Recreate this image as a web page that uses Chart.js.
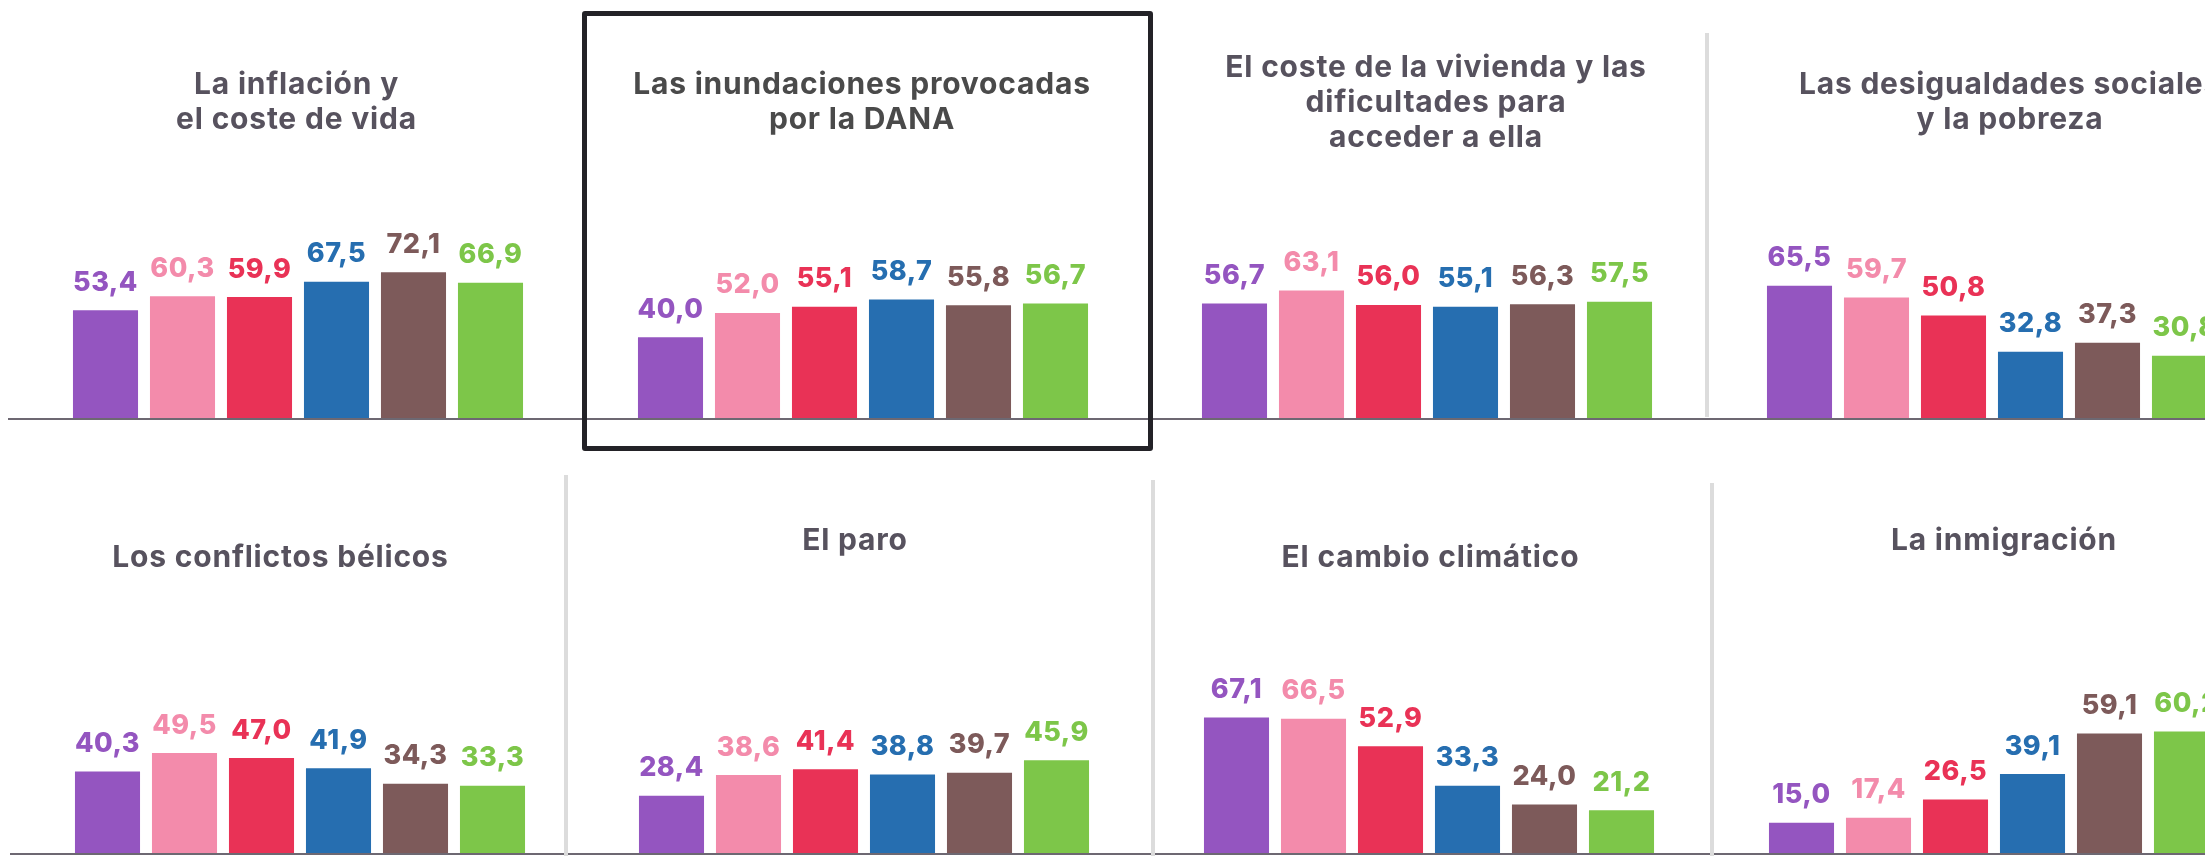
<!DOCTYPE html>
<html lang="es">
<head>
<meta charset="utf-8">
<title>Preocupaciones</title>
<script src="https://cdn.jsdelivr.net/npm/chart.js@4.4.1/dist/chart.umd.min.js"></script>
<style>
    html, body { margin: 0; padding: 0; background: #fff; }
    #board { position: relative; width: 2205px; height: 856px; overflow: hidden; }
    #board canvas { position: absolute; }
    .sep { position: absolute; width: 4px; background: #dcdcdc; }
    .highlight { position: absolute; box-sizing: border-box; border: 5px solid #232227; border-radius: 3px; }
</style>
</head>
<body>
<div id="board"></div>
<script>
(function () {
    'use strict';

    // data
    const categories = ['Grupo 1', 'Grupo 2', 'Grupo 3', 'Grupo 4', 'Grupo 5', 'Grupo 6'];
    const barColors = ['#9455c0', '#f38bab', '#e93256', '#266eb0', '#7d5a5a', '#7dc649'];

    const titles = [
        ['La inflación y', 'el coste de vida'],
        ['Las inundaciones provocadas', 'por la DANA'],
        ['El coste de la vivienda y las', 'dificultades para', 'acceder a ella'],
        ['Las desigualdades sociales', 'y la pobreza'],
        ['Los conflictos bélicos'],
        ['El paro'],
        ['El cambio climático'],
        ['La inmigración']
    ];

    const inflacion   = [53.4, 60.3, 59.9, 67.5, 72.1, 66.9];
    const dana        = [40.0, 52.0, 55.1, 58.7, 55.8, 56.7];
    const vivienda    = [56.7, 63.1, 56.0, 55.1, 56.3, 57.5];
    const desigualdad = [65.5, 59.7, 50.8, 32.8, 37.3, 30.8];
    const conflictos  = [40.3, 49.5, 47.0, 41.9, 34.3, 33.3];
    const paro        = [28.4, 38.6, 41.4, 38.8, 39.7, 45.9];
    const clima       = [67.1, 66.5, 52.9, 33.3, 24.0, 21.2];
    const inmigracion = [15.0, 17.4, 26.5, 39.1, 59.1, 60.2];

    const series = [inflacion, dana, vivienda, desigualdad, conflictos, paro, clima, inmigracion];

    // layout of the small multiples
    const W = 580, H = 430;
    const rowTop = [0, 435];
    const centers = [[297.5, 862.5, 1427, 1992], [299.5, 864, 1428.5, 1994]];
    const titleDx = [[-1.5, -1, 9, 18], [-19.5, -9, 1.5, 10]];
    const titleMid = [[111.5, 111.5, 111.5, 111.5], [132, 115, 132, 115]];
    const titleColor = ['#57525e', '#4a4a4a', '#57525e', '#57525e', '#57525e', '#57525e', '#57525e', '#57525e'];

    const board = document.getElementById('board');

    function fmt(v) {
        return v.toFixed(1).replace('.', ',');
    }

    const panelDecor = {
        id: 'panelDecor',
        afterDatasetsDraw(chart, args, opts) {
            const ctx = chart.ctx;
            const y0 = chart.scales.y.getPixelForValue(0);
            ctx.save();

            // base line
            ctx.strokeStyle = '#6d6872';
            ctx.lineWidth = 2;
            ctx.beginPath();
            ctx.moveTo(0, y0 + 1);
            ctx.lineTo(chart.width, y0 + 1);
            ctx.stroke();

            // values over the bars
            const values = chart.data.datasets[0].data;
            ctx.font = '800 27px Inter';
            ctx.letterSpacing = '0.5px';
            ctx.textAlign = 'center';
            ctx.textBaseline = 'alphabetic';
            chart.getDatasetMeta(0).data.forEach(function (bar, i) {
                ctx.fillStyle = barColors[i];
                ctx.fillText(fmt(values[i]), bar.x, bar.y - 19.5);
            });

            // title
            const lines = opts.lines;
            ctx.font = '700 30px Inter';
            ctx.letterSpacing = '0.8px';
            ctx.fillStyle = opts.color;
            lines.forEach(function (t, i) {
                const y = opts.mid + (i - (lines.length - 1) / 2) * 35;
                ctx.fillText(t, chart.width / 2 + opts.dx, y);
            });

            ctx.restore();
        }
    };

    series.forEach(function (values, k) {
        const row = Math.floor(k / 4), col = k % 4;
        const canvas = document.createElement('canvas');
        canvas.width = W;
        canvas.height = H;
        canvas.style.left = (centers[row][col] - W / 2) + 'px';
        canvas.style.top = rowTop[row] + 'px';
        board.appendChild(canvas);

        new Chart(canvas, {
            type: 'bar',
            data: {
                labels: categories,
                datasets: [{
                    data: values,
                    backgroundColor: barColors,
                    borderWidth: 0,
                    barPercentage: 0.845,
                    categoryPercentage: 1
                }]
            },
            options: {
                responsive: false,
                animation: false,
                layout: {
                    padding: { left: 59, right: 59, top: 216, bottom: 12 }
                },
                scales: {
                    x: { display: false },
                    y: { display: false, min: 0, max: 100 }
                },
                plugins: {
                    legend: { display: false },
                    tooltip: { enabled: false },
                    panelDecor: {
                        lines: titles[k],
                        dx: titleDx[row][col],
                        mid: titleMid[row][col],
                        color: titleColor[k]
                    }
                }
            },
            plugins: [panelDecor]
        });
    });

    // separators between panels
    [
        { x: 1704.5, top: 33, bottom: 417 },
        { x: 563.5, top: 475, bottom: 856 },
        { x: 1151, top: 480, bottom: 856 },
        { x: 1709.5, top: 483, bottom: 856 }
    ].forEach(function (s) {
        const d = document.createElement('div');
        d.className = 'sep';
        d.style.left = s.x + 'px';
        d.style.top = s.top + 'px';
        d.style.height = (s.bottom - s.top) + 'px';
        board.appendChild(d);
    });

    // frame round the highlighted panel
    const box = document.createElement('div');
    box.className = 'highlight';
    box.style.left = '582px';
    box.style.top = '11px';
    box.style.width = '571px';
    box.style.height = '440px';
    board.appendChild(box);

})();
</script>
</body>
</html>
